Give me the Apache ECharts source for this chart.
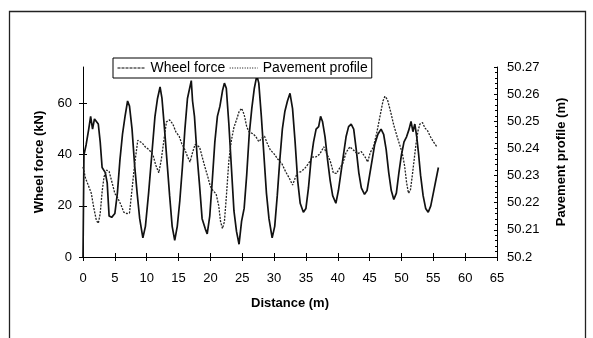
<!DOCTYPE html>
<html>
<head>
<meta charset="utf-8">
<script src="https://cdn.jsdelivr.net/npm/echarts@6/dist/echarts.min.js"></script>
<style>
html,body{margin:0;padding:0;background:#fff;}
#chart{width:593px;height:338px;}
</style>
</head>
<body>
<div id="chart"></div>
<script>
// Wheel force (kN) vs distance (m)
const wheelDist = [0,0.15,0.5,0.9,1.2,1.5,1.8,2.1,2.4,2.7,3.0,3.5,3.8,4.1,4.5,5.0,5.4,5.8,6.2,6.6,7.0,7.3,7.7,8.1,8.5,8.9,9.4,9.8,10.3,10.8,11.3,11.7,12.1,12.4,12.8,13.2,13.6,14.0,14.4,14.8,15.2,15.6,16.0,16.4,16.7,17.0,17.2,17.5,17.9,18.3,18.7,19.2,19.5,19.9,20.3,20.7,21.1,21.5,21.9,22.2,22.5,22.9,23.3,23.7,24.1,24.5,24.9,25.3,25.7,26.1,26.5,26.9,27.3,27.6,28.0,28.4,28.8,29.2,29.7,30.1,30.5,30.9,31.3,31.7,32.1,32.5,32.9,33.3,33.7,34.1,34.6,35.0,35.4,35.8,36.2,36.6,37.0,37.3,37.6,38.0,38.4,38.8,39.2,39.7,40.1,40.5,40.9,41.3,41.7,42.1,42.5,42.9,43.3,43.7,44.2,44.6,45.0,45.4,45.8,46.3,46.8,47.2,47.6,48.0,48.4,48.8,49.2,49.6,50.0,50.4,50.8,51.2,51.5,51.8,52.1,52.4,52.7,53.0,53.4,53.8,54.2,54.6,55.0,55.4,55.8];
const wheelForce = [0,40,44,50,55,50,54,53,52,45,35,33,29,16,15.5,17,25,38,48,55,61,59,50,36,25,15,7.5,12,25,40,55,62,66.5,62,50,37,24,12,6.5,12,22,35,50,62,62,69,61,55,40,28,15,11,9,16,30,45,55,59,65,68,66,52,35,18,10,5,14,19,32,48,58,66,71,68,55,40,25,15,7.5,12,24,38,50,57,61,64,58,45,30,21,17.5,19,27,38,45,50,51,55,53,47,38,30,24,21,26,33,40,47,51,52,50,42,33,27,24.5,26,32,38,44,48,50,48,42,33,26,22.5,25,33,40,45,47,50,53,49,52,47,40,32,24,19,17.5,20,25,30,35];

// Pavement profile (m) vs distance (m)
const profDist = [0,0.4,0.9,1.3,1.7,2.1,2.4,2.7,3.0,3.3,3.7,4.1,4.5,5.0,5.4,5.7,6.0,6.4,6.9,7.3,7.7,8.1,8.6,8.9,9.3,9.8,10.4,11.0,11.4,11.9,12.3,12.7,13.1,13.6,14.1,14.6,15.1,15.5,16.0,16.4,16.8,17.2,17.6,17.9,18.3,18.7,19.1,19.6,20.0,20.4,20.9,21.3,21.6,21.9,22.2,22.5,22.9,23.3,23.7,24.1,24.5,24.9,25.3,25.7,26.1,26.6,27.1,27.6,28.1,28.5,28.9,29.4,30.0,30.6,31.2,31.8,32.4,32.9,33.3,33.7,34.2,34.8,35.4,36.0,36.6,37.2,37.8,38.3,38.8,39.1,39.3,39.8,40.3,40.8,41.3,41.9,42.5,43.1,43.7,44.3,44.7,45.1,45.6,46.1,46.6,47.1,47.4,47.8,48.3,48.8,49.3,49.7,50.1,50.5,50.8,51.1,51.4,51.7,52.0,52.3,52.6,52.9,53.3,53.7,54.1,54.5,55.0,55.6];
const profElev = [50.2332,50.229,50.226,50.2235,50.218,50.2135,50.2124,50.216,50.224,50.2295,50.232,50.2315,50.228,50.2234,50.222,50.2216,50.219,50.2165,50.216,50.2162,50.225,50.234,50.243,50.2435,50.242,50.2405,50.2395,50.2375,50.234,50.231,50.236,50.243,50.2498,50.2505,50.249,50.246,50.2445,50.2418,50.2395,50.237,50.235,50.2385,50.2415,50.242,50.2405,50.237,50.2335,50.2295,50.226,50.2245,50.2232,50.219,50.213,50.2105,50.213,50.222,50.2355,50.243,50.2478,50.2505,50.2535,50.2548,50.2525,50.248,50.246,50.2455,50.2445,50.2425,50.2438,50.2445,50.242,50.2395,50.238,50.236,50.2345,50.2315,50.229,50.2265,50.229,50.2312,50.2314,50.2326,50.2344,50.2368,50.2369,50.238,50.2406,50.2378,50.2355,50.233,50.231,50.2308,50.2328,50.2345,50.2385,50.2406,50.2393,50.238,50.2388,50.2368,50.235,50.2385,50.2405,50.2455,50.2515,50.2575,50.2592,50.258,50.2535,50.2485,50.2445,50.2415,50.2385,50.2335,50.2275,50.2235,50.2245,50.23,50.236,50.242,50.2465,50.249,50.2495,50.2475,50.2465,50.2445,50.2425,50.2405];

const xTicks = [0,5,10,15,20,25,30,35,40,45,50,55,60,65];
const leftTicks = [0,20,40,60];
const rightTicks = [50.2,50.21,50.22,50.23,50.24,50.25,50.26,50.27];

const FONT = 'Liberation Sans';
const chart = echarts.init(document.getElementById('chart'));
const lbl = {color:'#000', fontFamily:FONT, fontSize:13};

chart.setOption({
  animation:false,
  backgroundColor:'#fff',
  color:['#111','#222'],
  graphic:[{type:'rect',shape:{x:9.5,y:11.5,width:576,height:340},style:{fill:'none',stroke:'#222',lineWidth:1.3},silent:true}],
  legend:{
    left:113, top:58, padding:[3,4], itemGap:4, itemWidth:28, itemHeight:10,
    borderColor:'#000', borderWidth:1, backgroundColor:'#fff',
    textStyle:{color:'#000', fontFamily:FONT, fontSize:14},
    itemStyle:{opacity:0},
    data:[
      {name:'Wheel force', itemStyle:{opacity:0}, lineStyle:{type:[3,1], width:1, color:'#000', opacity:1}},
      {name:'Pavement profile', itemStyle:{opacity:0}, lineStyle:{type:[1,1.5], width:1, color:'#000', opacity:1}}
    ]
  },
  grid:{left:83, right:96, top:67, bottom:81, containLabel:false},
  xAxis:[
    {type:'value', position:'bottom', min:0, max:65, interval:5,
     name:'Distance (m)', nameLocation:'middle', nameGap:40,
     nameTextStyle:{color:'#000', fontFamily:FONT, fontSize:13, fontWeight:'bold'},
     axisLine:{show:true, onZero:false, lineStyle:{color:'#000', width:1}},
     axisTick:{show:true, inside:false, length:4, lineStyle:{color:'#000'}},
     axisLabel:Object.assign({margin:15, customValues:xTicks}, lbl),
     splitLine:{show:false}},
    {type:'value', position:'bottom', min:0, max:65, interval:5,
     axisLine:{show:false, onZero:false},
     axisTick:{show:true, inside:true, length:4, lineStyle:{color:'#000'}},
     axisLabel:{show:false}, splitLine:{show:false}}
  ],
  yAxis:[
    {type:'value', position:'left', min:0, max:74.3, interval:20,
     name:'Wheel force (kN)', nameLocation:'middle', nameGap:37, nameRotate:90,
     nameTextStyle:{color:'#000', fontFamily:FONT, fontSize:13, fontWeight:'bold'},
     axisLine:{show:true, onZero:false, lineStyle:{color:'#000', width:1}},
     axisTick:{show:true, inside:false, length:4, customValues:leftTicks, lineStyle:{color:'#000'}},
     axisLabel:Object.assign({margin:11, customValues:leftTicks}, lbl),
     splitLine:{show:false}},
    {type:'value', position:'right', min:50.2, max:50.27, interval:0.01,
     name:'Pavement profile (m)', nameLocation:'middle', nameGap:58, nameRotate:90,
     nameTextStyle:{color:'#000', fontFamily:FONT, fontSize:13, fontWeight:'bold'},
     axisLine:{show:true, onZero:false, lineStyle:{color:'#000', width:1}},
     axisTick:{show:true, inside:true, length:3, customValues:rightTicks, lineStyle:{color:'#000'}},
     minorTick:{show:true, splitNumber:5, length:2, lineStyle:{color:'#000'}},
     axisLabel:Object.assign({margin:10, customValues:rightTicks,
       formatter:function(v){return String(parseFloat(v.toFixed(2)));}}, lbl),
     splitLine:{show:false}},
    {type:'value', position:'left', min:0, max:74.3, interval:20,
     axisLine:{show:false, onZero:false},
     axisTick:{show:true, inside:true, length:4, customValues:leftTicks, lineStyle:{color:'#000'}},
     axisLabel:{show:false}, splitLine:{show:false}}
  ],
  series:[
    {name:'Wheel force', type:'line', xAxisIndex:0, yAxisIndex:0, showSymbol:false, symbol:'none',
     itemStyle:{color:'#111'},
     lineStyle:{color:'#111', width:1.7, type:'solid'},
     data:wheelDist.map((d,i)=>[d, wheelForce[i]])},
    {name:'Pavement profile', type:'line', xAxisIndex:0, yAxisIndex:1, showSymbol:false, symbol:'none',
     itemStyle:{color:'#222'},
     lineStyle:{color:'#222', width:1.3, type:[2,1.3]},
     data:profDist.map((d,i)=>[d, profElev[i]])}
  ]
});
</script>
</body>
</html>
